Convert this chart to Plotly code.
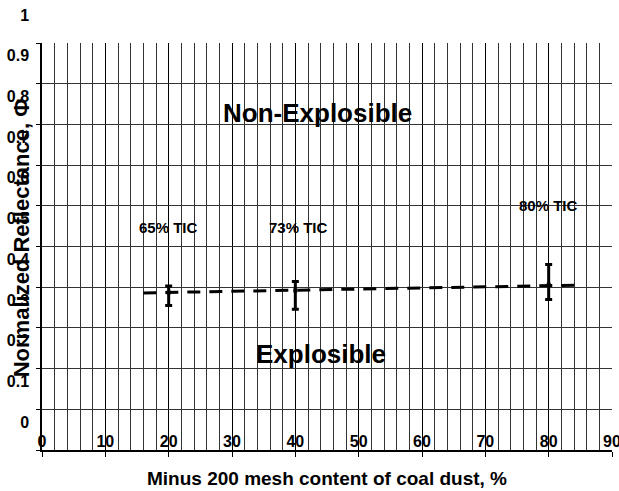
import plotly.graph_objects as go

# Data
mesh_content = [20, 40, 80]
reflectance = [0.387, 0.392, 0.406]
err_plus = [0.016, 0.022, 0.05]
err_minus = [0.032, 0.046, 0.036]
trend_x = [16, 84.5]
trend_y = [0.386, 0.405]
tic_labels = ["65% TIC", "73% TIC", "80% TIC"]
tic_label_x = [20, 40.5, 80]
tic_label_y = [0.547, 0.547, 0.6]

FONT = "Liberation Sans, Arial, sans-serif"

fig = go.Figure()
fig.add_trace(go.Scatter(
    x=trend_x, y=trend_y, mode="lines",
    line=dict(color="black", width=3, dash="13px,9px"),
    showlegend=False, hoverinfo="skip"))
fig.add_trace(go.Scatter(
    x=mesh_content, y=reflectance, mode="markers",
    marker=dict(color="black", size=4, symbol="square"),
    error_y=dict(type="data", symmetric=False, array=err_plus, arrayminus=err_minus,
                 color="black", thickness=3, width=3.5),
    showlegend=False))

for t, x, y in zip(tic_labels, tic_label_x, tic_label_y):
    fig.add_annotation(x=x, y=y, text="<b>" + t + "</b>", showarrow=False,
                       font=dict(family=FONT, size=15, color="black"))

fig.add_annotation(x=43.5, y=0.827, text="<b>Non-Explosible</b>", showarrow=False,
                   font=dict(family=FONT, size=26, color="black"))
fig.add_annotation(x=44, y=0.235, text="<b>Explosible</b>", showarrow=False,
                   font=dict(family=FONT, size=26, color="black"))

# axis titles
fig.add_annotation(xref="paper", yref="paper", x=-0.037, y=0.52, xanchor="center", yanchor="middle",
                   text="<b>Normalized Reflectance, Φ</b>", textangle=-90, showarrow=False,
                   font=dict(family=FONT, size=22, color="black"))
fig.add_annotation(xref="paper", yref="paper", x=0.5, y=-0.069, xanchor="center", yanchor="middle",
                   text="<b>Minus 200 mesh content of coal dust, %</b>", showarrow=False,
                   font=dict(family=FONT, size=19, color="black"))

fig.update_layout(
    width=619, height=491,
    margin=dict(l=42, r=7, t=43, b=41, autoexpand=False),
    paper_bgcolor="white", plot_bgcolor="white",
    font=dict(family=FONT, color="black"),
    xaxis=dict(range=[0, 90], dtick=10, tick0=0, showgrid=True, gridcolor="black", gridwidth=1,
               minor=dict(dtick=2, showgrid=True, gridcolor="#333", gridwidth=1),
               showline=True, linecolor="black", linewidth=1.5,
               ticks="outside", ticklen=5, tickcolor="black",
               ticklabelposition="inside", ticklabeloverflow="allow", automargin=False,
               tickfont=dict(family=FONT, size=16, color="black", weight="bold"),
               zeroline=False),
    yaxis=dict(range=[0, 1], dtick=0.1, tick0=0, showgrid=True, gridcolor="#333", gridwidth=1,
               showline=True, linecolor="black", linewidth=1.5,
               ticks="outside", ticklen=4, tickcolor="black",
               ticklabelshift=-28, ticklabelstandoff=4, automargin=False,
               tickfont=dict(family=FONT, size=16, color="black", weight="bold"),
               zeroline=False),
)

fig.write_html("out.html", config={"displayModeBar": False},
               post_script="document.body.style.margin='0';")
